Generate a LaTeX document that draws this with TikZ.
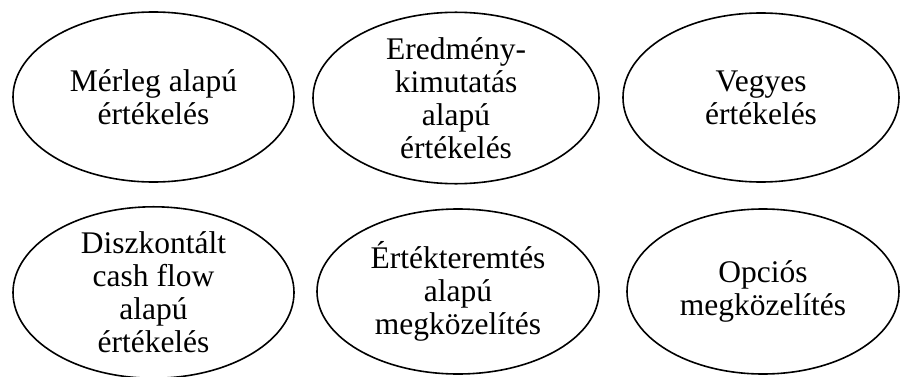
\documentclass[tikz,border=0pt]{standalone}
\usepackage{fontspec}
\setmainfont{Liberation Serif}
\usetikzlibrary{shapes.geometric}
\begin{document}
\begin{tikzpicture}[x=1pt,y=1pt,
  method/.style={ellipse, draw, line width=1.6pt, inner sep=0pt, align=center,
    font=\fontsize{31.5}{33}\selectfont}]
\useasboundingbox (0,0) rectangle (900,376);
% upper row
\node[method, minimum width=281, minimum height=170] (merleg) at (153.5,279)
  {Mérleg alapú\\értékelés};
\node[method, minimum width=286, minimum height=170] (eredmeny) at (456,278)
  {Eredmény-\\kimutatás\\alapú\\értékelés};
\node[method, minimum width=276, minimum height=169] (vegyes) at (761,278.5)
  {Vegyes\\értékelés};
% lower row
\node[method, minimum width=281, minimum height=167] (dcf) at (153.5,83.5)
  {Diszkontált\\cash flow\\alapú\\értékelés};
\node[method, minimum width=282, minimum height=165] (ertekteremtes) at (458,84.5)
  {Értékteremtés\\alapú\\megközelítés};
\node[method, minimum width=272, minimum height=165] (opcios) at (763,84.5)
  {Opciós\\megközelítés};
\end{tikzpicture}
\end{document}
